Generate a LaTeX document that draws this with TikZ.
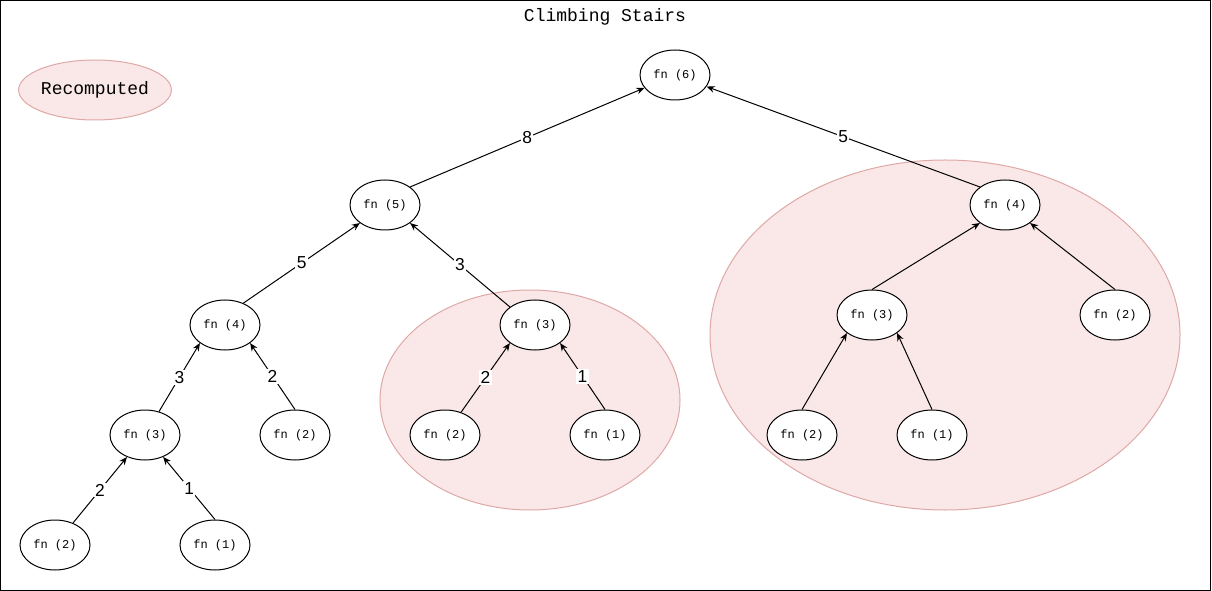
\documentclass[tikz,border=0pt]{standalone}
\usepackage{fontspec}
\setmainfont{Liberation Sans}
\setmonofont{Liberation Mono}
\usetikzlibrary{arrows.meta,shapes.geometric}

\definecolor{zonefill}{RGB}{250,232,232}
\definecolor{zoneline}{RGB}{222,168,166}

\tikzset{every picture/.style={line width=0.75pt}}
\tikzset{
  fnnode/.style={draw, ellipse, fill=white, inner sep=0pt, minimum width=52.5pt, minimum height=37.5pt, font=\ttfamily\fontsize{9}{10}\selectfont},
  zone/.style={draw=zoneline, fill=zonefill},
  call/.style={-{Stealth[length=6pt,width=5pt]}},
  lbl/.style={midway, fill=white, inner sep=1pt, font=\fontsize{13}{14}\selectfont}
}

\begin{document}
\begin{tikzpicture}[x=0.75pt,y=0.75pt,yscale=-1,xscale=1]
		\useasboundingbox (0,0) rectangle (1212,591);
		%Frame
		\draw (0.5,0.5) rectangle (1210.5,590.5);
		\node[font=\ttfamily\fontsize{13.5}{14}\selectfont] (title) at (605,17) {Climbing Stairs};
		
		%Recomputed zones
		\draw[zone] (530,400) ellipse (150 and 110);
		\draw[zone] (945,335) ellipse (235 and 175);
		\node[zone, ellipse, inner sep=0pt, minimum width=112.5pt, minimum height=45pt, font=\ttfamily\fontsize{13.5}{14}\selectfont] (legend) at (95,90) {Recomputed};
		
		%Calls
		\node[fnnode] (f6) at (675,75) {fn (6)};
		\node[fnnode] (f5) at (385,205) {fn (5)};
		\node[fnnode] (f4r) at (1005,205) {fn (4)};
		\node[fnnode] (f4l) at (225,325) {fn (4)};
		\node[fnnode] (f3m) at (535,325) {fn (3)};
		\node[fnnode] (f3r) at (872,315) {fn (3)};
		\node[fnnode] (f2r) at (1115,315) {fn (2)};
		\node[fnnode] (f3l) at (145,435) {fn (3)};
		\node[fnnode] (f2l) at (295,435) {fn (2)};
		\node[fnnode] (f2m) at (445,435) {fn (2)};
		\node[fnnode] (f1m) at (605,435) {fn (1)};
		\node[fnnode] (f2rr) at (802,435) {fn (2)};
		\node[fnnode] (f1rr) at (932,435) {fn (1)};
		\node[fnnode] (f2ll) at (55,545) {fn (2)};
		\node[fnnode] (f1ll) at (215,545) {fn (1)};
		
		%Returns
		\draw[call] (f5.north east) -- node[lbl] {8} (f6);
		\draw[call] (f4r.north west) -- node[lbl] {5} (f6);
		\draw[call] (f4l.50) -- node[lbl] {5} (f5.south west);
		\draw[call] (f3m.north west) -- node[lbl] {3} (f5.south east);
		\draw[call] (f3l) -- node[lbl] {3} (f4l.south west);
		\draw[call] (f2l.north) -- node[lbl] {2} (f4l.south east);
		\draw[call] (f2m) -- node[lbl] {2} (f3m.south west);
		\draw[call] (f1m.north) -- node[lbl] {1} (f3m.south east);
		\draw[call] (f2ll) -- node[lbl] {2} (f3l);
		\draw[call] (f1ll.north) -- node[lbl] {1} (f3l);
		\draw[call] (f3r.north) -- (f4r.south west);
		\draw[call] (f2r.north) -- (f4r.south east);
		\draw[call] (f2rr.north) -- (f3r.south west);
		\draw[call] (f1rr.north) -- (f3r.south east);
		
\end{tikzpicture}
\end{document}
